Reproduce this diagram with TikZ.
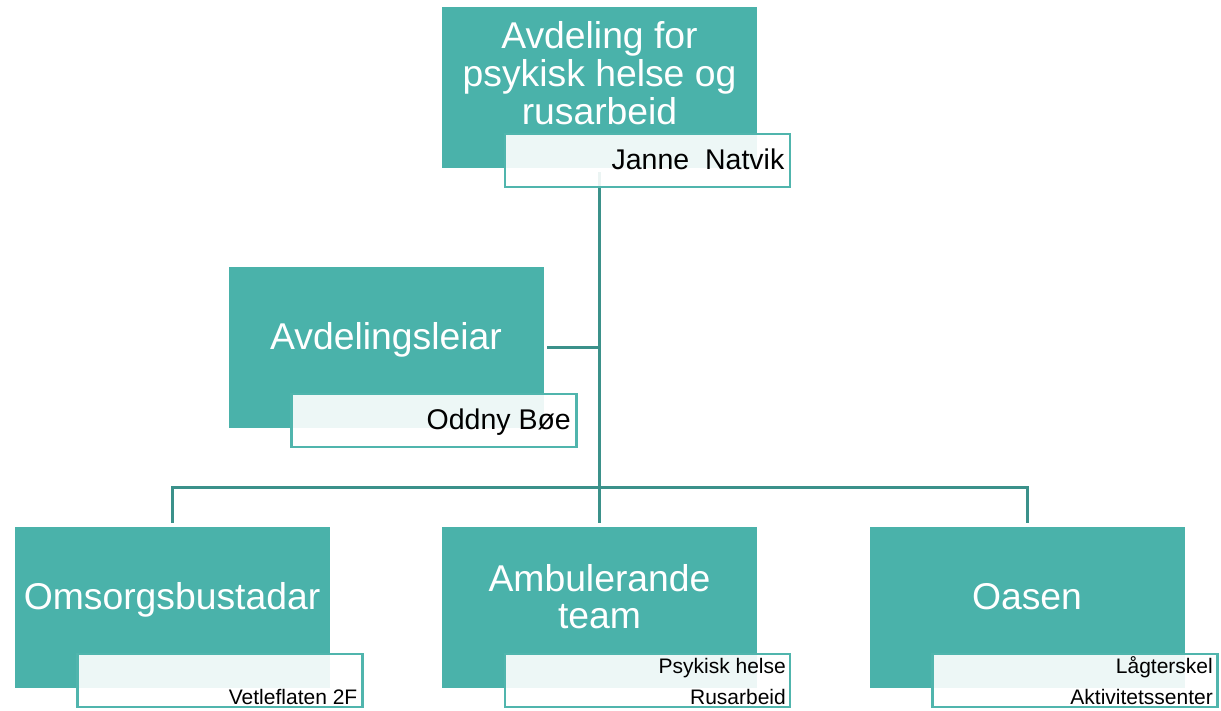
\documentclass[tikz,border=0pt]{standalone}
\usepackage{fontspec}
\setmainfont{Liberation Sans}
\definecolor{tealfill}{HTML}{4AB2AA}
\definecolor{tealline}{HTML}{3B918A}
\definecolor{tealborder}{HTML}{50B5AD}
\pgfdeclarelayer{background}
\pgfsetlayers{background,main}
\begin{document}
\begin{tikzpicture}[x=1pt,y=-1pt,
  tealbox/.style={rectangle,fill=tealfill,draw=none,minimum width=315pt,minimum height=161pt,inner sep=0pt,outer sep=0pt},
  subbox/.style={rectangle,fill=white,fill opacity=0.9,draw=tealborder,draw opacity=1,line width=2.5pt,minimum width=285pt,minimum height=53pt,inner sep=0pt,outer sep=0pt},
  conn/.style={draw=tealline,line width=3pt},
  maintext/.style={text=white,font=\fontsize{37.3}{38}\selectfont,inner sep=0pt,anchor=base},
  nametext/.style={text=black,font=\fontsize{28.5}{30}\selectfont,inner sep=0pt,anchor=base east},
  smalltext/.style={text=black,font=\fontsize{21}{23}\selectfont,inner sep=0pt,anchor=base east}]
\useasboundingbox (0,0) rectangle (1221,710);

% teal boxes
\node[tealbox] (top) at (599.5,87.5) {};
\node[tealbox] (leiar) at (386,347.5) {};
\node[tealbox] (omsorg) at (172,607.5) {};
\node[tealbox] (ambu) at (599.5,607.5) {};
\node[tealbox] (oasen) at (1027,607.5) {};
\coordinate (hub) at (599.5,487);

% connectors beneath the boxes
\begin{pgfonlayer}{background}
\draw[conn,shorten <=4pt,shorten >=4pt] (top.south) -- (ambu.north);
\draw[conn,shorten >=4pt] (hub) -| (omsorg.north);
\draw[conn,shorten >=4pt] (hub) -| (oasen.north);
\draw[conn,shorten >=3pt] (top.south |- leiar.east) -- (leiar.east);
\end{pgfonlayer}

% sub boxes
\node[subbox] (topsub) at (647.5,160.5) {};
\node[subbox] (leiarsub) at (434,420.5) {};
\node[subbox] (omsorgsub) at (220,680.5) {};
\node[subbox] (ambusub) at (647.5,680.5) {};
\node[subbox] (oasensub) at (1075,680.5) {};

% main texts
\node[maintext] (t1) at (599.5,48.5) {Avdeling for};
\node[maintext] (t2) at (599.5,86.5) {psykisk helse og};
\node[maintext] (t3) at (599.5,124.5) {rusarbeid};
\node[maintext] (t4) at (386,349) {Avdelingsleiar};
\node[maintext] (t5) at (172,609) {Omsorgsbustadar};
\node[maintext] (t6) at (599.5,591) {Ambulerande};
\node[maintext] (t7) at (599.5,628) {team};
\node[maintext] (t8) at (1027,609) {Oasen};

% sub texts
\node[nametext] (s1) at (784.5,169.5) {Janne\ \ Natvik};
\node[nametext] (s2) at (571,429.5) {Oddny Bøe};
\node[smalltext] (s3) at (357.5,704) {Vetleflaten 2F};
\node[smalltext] (s4) at (786,673) {Psykisk helse};
\node[smalltext] (s5) at (786,704) {Rusarbeid};
\node[smalltext] (s6) at (1213,673) {Lågterskel};
\node[smalltext] (s7) at (1213,704) {Aktivitetssenter};
\end{tikzpicture}
\end{document}
